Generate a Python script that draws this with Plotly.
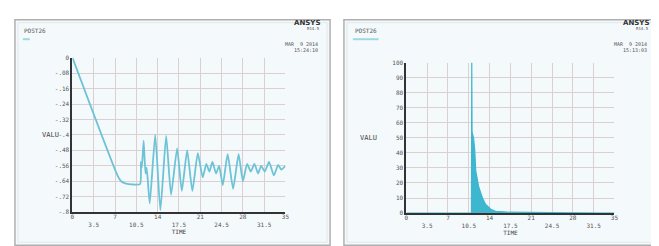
import plotly.graph_objects as go

# ---- data ----
left_time = [0, 7.4, 8.0, 8.8, 11.1, 11.25, 11.4, 11.7, 12.0, 12.2, 12.7, 13.6, 14.45, 15.4, 16.2,
             17.2, 17.97, 18.85, 19.7, 20.6, 21.4, 22.0, 22.5, 23.0, 23.6, 24.1, 24.7, 25.5,
             26.4, 27.3, 28.0, 28.7, 29.3, 29.9, 30.5, 31.0, 31.6, 32.3, 33.1, 33.8, 34.3, 35]
left_valu = [0, -0.61, -0.64, -0.652, -0.655, -0.54, -0.57, -0.43, -0.60, -0.57, -0.755, -0.40,
             -0.79, -0.405, -0.71, -0.47, -0.69, -0.48, -0.69, -0.495, -0.62, -0.55, -0.59,
             -0.54, -0.60, -0.56, -0.66, -0.50, -0.68, -0.50, -0.64, -0.55, -0.59, -0.55,
             -0.60, -0.56, -0.59, -0.54, -0.61, -0.555, -0.58, -0.56]

right_time = [0, 10.95, 11.0, 11.05, 11.3, 11.5, 11.67, 12.2, 12.8, 13.3, 14.2, 15.0, 17, 20, 25, 28, 35]
right_valu = [0, 0, 100, 54, 50, 42, 28, 17, 10, 6, 2.6, 1.2, 0.6, 0.4, 0.3, 0.2, 0]

x_ticks = [0, 3.5, 7, 10.5, 14, 17.5, 21, 24.5, 28, 31.5, 35]
x_ticklabels = ["0", "<br>3.5", "7", "<br>10.5", "14", "<br>17.5", "21", "<br>24.5", "28", "<br>31.5", "35"]
left_yticks = [0, -0.08, -0.16, -0.24, -0.32, -0.4, -0.48, -0.56, -0.64, -0.72, -0.8]
left_yticklabels = ["0", "-.08", "-.16", "-.24", "-.32", "-.4", "-.48", "-.56", "-.64", "-.72", "-.8"]
right_yticks = [0, 10, 20, 30, 40, 50, 60, 70, 80, 90, 100]
right_yticklabels = ["0", "10", "20", "30", "40", "50", "60", "70", "80", "90", "100"]

W, H = 659, 246
def px(x):
    return x / W
def py(y):
    return 1 - y / H

line_col = "#6cc3d6"
fill_col = "#3db7cf"
grid_col = "#dccfcf"
tick_font = dict(family="DejaVu Sans Mono", size=6, color="#555555")

fig = go.Figure()
fig.add_trace(go.Scatter(x=left_time, y=left_valu, mode="lines",
                         line=dict(color=line_col, width=1.8, shape="spline", smoothing=0.5),
                         xaxis="x", yaxis="y", showlegend=False))
fig.add_trace(go.Scatter(x=right_time, y=right_valu, mode="lines", fill="tozeroy",
                         fillcolor=fill_col, line=dict(color=fill_col, width=1.2),
                         xaxis="x2", yaxis="y2", showlegend=False))

axis_common = dict(showgrid=True, gridcolor=grid_col, gridwidth=1, zeroline=False,
                   showline=True, linecolor="#333333", linewidth=2, ticks="",
                   tickfont=tick_font, fixedrange=True)
title_font = dict(family="DejaVu Sans Mono", size=6, color="#444")

fig.update_layout(
    width=W, height=H, margin=dict(l=0, r=0, t=0, b=0),
    paper_bgcolor="white", plot_bgcolor="#fdfefe",
    xaxis=dict(domain=[px(63), px(278)], range=[0, 35], tickvals=x_ticks, ticktext=x_ticklabels,
               anchor="y", ticklabelstandoff=-2,
               title=dict(text="TIME", font=title_font, standoff=0), **axis_common),
    yaxis=dict(domain=[py(206), py(47)], range=[-0.8, 0], tickvals=left_yticks, ticktext=left_yticklabels,
               anchor="x", **axis_common),
    xaxis2=dict(domain=[px(400), px(610)], range=[0, 35], tickvals=x_ticks, ticktext=x_ticklabels,
                anchor="y2", ticklabelstandoff=-2,
                title=dict(text="TIME", font=title_font, standoff=0), **axis_common),
    yaxis2=dict(domain=[py(207), py(52)], range=[0, 100], tickvals=right_yticks, ticktext=right_yticklabels,
                anchor="x2", **axis_common),
)

shapes = []
# panel frames
for (x0, x1) in [(5, 323), (337, 655)]:
    shapes.append(dict(type="rect", xref="paper", yref="paper", x0=px(x0), x1=px(x1), y0=py(240), y1=py(8),
                       line=dict(color="#b0b0b0", width=1.5), fillcolor="#f4f9fc", layer="below"))
    shapes.append(dict(type="rect", xref="paper", yref="paper", x0=px(x0 + 3), x1=px(x1 - 3), y0=py(237), y1=py(11),
                       line=dict(color="#e2e7ea", width=1), fillcolor="rgba(0,0,0,0)", layer="below"))
# legend swatches
shapes.append(dict(type="line", xref="paper", yref="paper", x0=px(13), x1=px(20), y0=py(28), y1=py(28),
                   line=dict(color="#9fd8e4", width=2)))
shapes.append(dict(type="line", xref="paper", yref="paper", x0=px(346), x1=px(372), y0=py(28), y1=py(28),
                   line=dict(color="#9fd8e4", width=2)))
fig.update_layout(shapes=shapes)

small = dict(family="DejaVu Sans Mono", color="#555555")
ann = []
for (xl, xr, tm) in [(12, 315, "15:24:10"), (346, 647, "15:13:03")]:
    ann.append(dict(text="POST26", x=px(xl), y=py(19), xref="paper", yref="paper", xanchor="left",
                    yanchor="middle", showarrow=False, font=dict(size=6, **small)))
    ann.append(dict(text="<b>ANSYS</b>", x=px(xr), y=py(11), xref="paper", yref="paper", xanchor="right",
                    yanchor="middle", showarrow=False, font=dict(size=7, family="DejaVu Sans", color="#333")))
    ann.append(dict(text="R14.5", x=px(xr), y=py(17), xref="paper", yref="paper", xanchor="right",
                    yanchor="middle", showarrow=False, font=dict(size=4, **small)))
    ann.append(dict(text="MAR  9 2014", x=px(xr - 2), y=py(33), xref="paper", yref="paper", xanchor="right",
                    yanchor="middle", showarrow=False, font=dict(size=5, **small)))
    ann.append(dict(text=tm, x=px(xr - 2), y=py(39), xref="paper", yref="paper", xanchor="right",
                    yanchor="middle", showarrow=False, font=dict(size=5, **small)))
ann.append(dict(text="VALU", x=px(30), y=py(127), xref="paper", yref="paper", showarrow=False,
                font=dict(size=7, family="DejaVu Sans Mono", color="#444")))
ann.append(dict(text="VALU", x=px(362), y=py(130), xref="paper", yref="paper", showarrow=False,
                font=dict(size=7, family="DejaVu Sans Mono", color="#444")))
fig.update_layout(annotations=ann)

fig.write_html("out.html")
